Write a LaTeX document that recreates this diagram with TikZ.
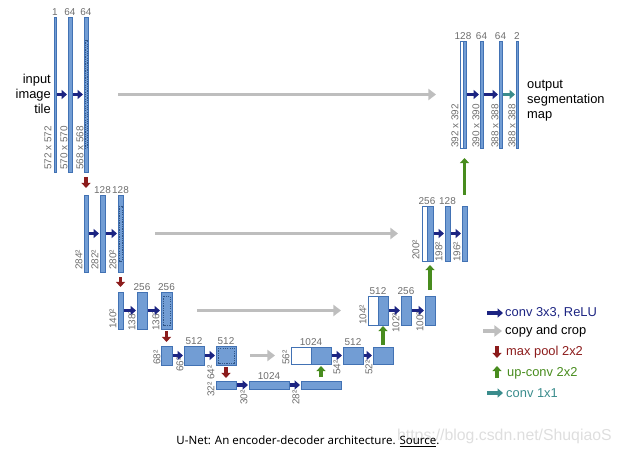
\documentclass[tikz,border=0pt]{standalone}
\usepackage{fontspec}
\setmainfont{Liberation Sans}
\newfontfamily\capfont{Noto Sans}
\usepackage{xcolor}
\usetikzlibrary{positioning, arrows.meta}

\definecolor{fmapblue}{RGB}{114,157,212}
\definecolor{fmapedge}{RGB}{66,114,180}
\definecolor{convblue}{RGB}{28,36,130}
\definecolor{poolred}{RGB}{140,28,28}
\definecolor{upgreen}{RGB}{72,140,30}
\definecolor{outteal}{RGB}{58,140,140}
\definecolor{copygray}{RGB}{190,190,190}
\definecolor{numgray}{RGB}{110,110,110}
\definecolor{markgray}{RGB}{222,222,222}

\newlength{\pxu}
\setlength{\pxu}{0.03cm}

\begin{document}
\begin{tikzpicture}[x=0.03cm, y=-0.03cm,
    fmap/.style={draw=fmapedge, fill=fmapblue, line width=0.5pt, inner sep=0pt, outer sep=0pt, anchor=north west},
    skipbox/.style={fmap, fill=white},
    crop/.style={draw=fmapedge!75!black, dash pattern=on 1pt off 1pt, line width=0.5pt},
    ch/.style={text=numgray, font=\fontsize{8.5}{9}\selectfont, inner sep=0.8pt},
    sz/.style={ch, rotate=90, anchor=west, inner sep=0pt},
    conv/.style={-{Triangle[length=4.5pt, width=7.5pt]}, line width=2.6pt, convblue, shorten <=1\pxu, shorten >=1\pxu},
    onebyone/.style={conv, outteal},
    pool/.style={-{Triangle[length=4.3pt, width=7.5pt]}, line width=2.7pt, poolred},
    upconv/.style={-{Triangle[length=4.3pt, width=7.5pt]}, line width=2.7pt, upgreen},
    copyarr/.style={-{Triangle[length=6.5pt, width=9.5pt]}, line width=3.2pt, copygray},
    legtxt/.style={font=\fontsize{11}{12.8}\selectfont, anchor=west, inner sep=0pt}]

    \useasboundingbox (0,0) rectangle (618,455);

    % Encoder, level 1
    \node[fmap, minimum width=2\pxu, minimum height=155\pxu] (e11) at (54,17) {};
    \node[fmap, minimum width=4\pxu, minimum height=155\pxu] (e12) at (68,17) {};
    \node[fmap, minimum width=4\pxu, minimum height=155\pxu] (e13) at (84,17) {};
    \draw[crop] (85,40) rectangle (87,148);

    % Encoder, level 2
    \node[fmap, minimum width=4\pxu, minimum height=77\pxu] (e21) at (84,195) {};
    \node[fmap, minimum width=5\pxu, minimum height=77\pxu] (e22) at (100,195) {};
    \node[fmap, minimum width=5\pxu, minimum height=77\pxu] (e23) at (118,195) {};
    \draw[crop] (119.2,206) rectangle (121.8,261);

    % Encoder, level 3
    \node[fmap, minimum width=5\pxu, minimum height=37\pxu] (e31) at (118,292) {};
    \node[fmap, minimum width=10\pxu, minimum height=37\pxu] (e32) at (137,292) {};
    \node[fmap, minimum width=11\pxu, minimum height=37\pxu] (e33) at (161,292) {};
    \draw[crop] (163,296) rectangle (170,325);

    % Encoder, level 4
    \node[fmap, minimum width=11\pxu, minimum height=19\pxu] (e41) at (161,346) {};
    \node[fmap, minimum width=20\pxu, minimum height=19\pxu] (e42) at (184,346) {};
    \node[fmap, minimum width=20\pxu, minimum height=19\pxu] (e43) at (216,346) {};
    \draw[crop] (218,348) rectangle (234,363);

    % Bottom
    \node[fmap, minimum width=20\pxu, minimum height=8\pxu] (b1) at (216,381) {};
    \node[fmap, minimum width=40\pxu, minimum height=8\pxu] (b2) at (249,381) {};
    \node[fmap, minimum width=40\pxu, minimum height=8\pxu] (b3) at (301,381) {};

    % Decoder, level 4
    \node[skipbox, minimum width=20\pxu, minimum height=17\pxu] (w4) at (291,347) {};
    \node[fmap, minimum width=20\pxu, minimum height=17\pxu] (d41) at (311,347) {};
    \node[fmap, minimum width=20\pxu, minimum height=17\pxu] (d42) at (343,347) {};
    \node[fmap, minimum width=20\pxu, minimum height=17\pxu] (d43) at (373,347) {};

    % Decoder, level 3
    \node[skipbox, minimum width=10\pxu, minimum height=29\pxu] (w3) at (368,296) {};
    \node[fmap, minimum width=10\pxu, minimum height=29\pxu] (d31) at (378,296) {};
    \node[fmap, minimum width=10\pxu, minimum height=29\pxu] (d32) at (401,296) {};
    \node[fmap, minimum width=10\pxu, minimum height=29\pxu] (d33) at (425,296) {};

    % Decoder, level 2
    \node[skipbox, minimum width=5\pxu, minimum height=55\pxu] (w2) at (422,206) {};
    \node[fmap, minimum width=6\pxu, minimum height=55\pxu] (d21) at (427,206) {};
    \node[fmap, minimum width=5\pxu, minimum height=55\pxu] (d22) at (445,206) {};
    \node[fmap, minimum width=5\pxu, minimum height=55\pxu] (d23) at (462,206) {};

    % Decoder, level 1
    \node[skipbox, minimum width=3\pxu, minimum height=107\pxu] (w1) at (460,41) {};
    \node[fmap, minimum width=3\pxu, minimum height=107\pxu] (d11) at (463,41) {};
    \node[fmap, minimum width=3\pxu, minimum height=107\pxu] (d12) at (480,41) {};
    \node[fmap, minimum width=3\pxu, minimum height=107\pxu] (d13) at (499,41) {};
    \node[fmap, minimum width=2\pxu, minimum height=107\pxu] (d14) at (516,41) {};

    % Channel counts
    \node[ch, above=0pt of e11] (c11) {1};
    \node[ch, above=0pt of e12] (c12) {64};
    \node[ch, above=0pt of e13] (c13) {64};
    \node[ch, above=0pt of e22] (c22) {128};
    \node[ch, above=0pt of e23] (c23) {128};
    \node[ch, above=0pt of e32] (c32) {256};
    \node[ch, above=0pt of e33] (c33) {256};
    \node[ch, above=0pt of e42] (c42) {512};
    \node[ch, above=0pt of e43] (c43) {512};
    \node[ch, above=0pt of b2] (cb2) {1024};
    \node[ch, above=0pt of w4.north east] (cw4) {1024};
    \node[ch, above=0pt of d42] (c42d) {512};
    \node[ch, above=0pt of w3.north east] (cw3) {512};
    \node[ch, above=0pt of d32] (c32d) {256};
    \node[ch, above=0pt of w2.north east] (cw2) {256};
    \node[ch, above=0pt of d22] (c22d) {128};
    \node[ch, above=0pt of w1.north east] (cw1) {128};
    \node[ch, above=0pt of d12] (c12d) {64};
    \node[ch, above=0pt of d13] (c13d) {64};
    \node[ch, above=0pt of d14] (c14d) {2};

    % Sizes
    \node[sz] (s11) at (48,170) {572 x 572};
    \node[sz] (s12) at (64,170) {570 x 570};
    \node[sz] (s13) at (80,170) {568 x 568};
    \node[sz] (s21) at (79,270) {284²};
    \node[sz] (s22) at (95,270) {282²};
    \node[sz] (s23) at (113,270) {280²};
    \node[sz] (s31) at (113,329) {140²};
    \node[sz] (s32) at (132,331) {138²};
    \node[sz] (s33) at (156,331) {136²};
    \node[sz] (s41) at (157,365) {68²};
    \node[sz] (s42) at (180,372) {66²};
    \node[sz] (s43) at (211,380) {64²};
    \node[sz] (sb1) at (211,397) {32²};
    \node[sz] (sb2) at (244,405) {30²};
    \node[sz] (sb3) at (296,405) {28²};
    \node[sz] (sw4) at (286,365) {56²};
    \node[sz] (s42d) at (337,375) {54²};
    \node[sz] (s43d) at (369,375) {52²};
    \node[sz] (sw3) at (363,325) {104²};
    \node[sz] (s32d) at (396,333) {102²};
    \node[sz] (s33d) at (420,332) {100²};
    \node[sz] (sw2) at (416,260) {200²};
    \node[sz] (s22d) at (439,262) {198²};
    \node[sz] (s23d) at (457,262) {196²};
    \node[sz] (sw1) at (455,148) {392 x 392};
    \node[sz] (s12d) at (476,148) {390 x 390};
    \node[sz] (s13d) at (495,148) {388 x 388};
    \node[sz] (s14d) at (512,148) {388 x 388};

    % conv 3x3
    \draw[conv] (e11) -- (e12);
    \draw[conv] (e12) -- (e13);
    \draw[conv] (e21) -- (e22);
    \draw[conv] (e22) -- (e23);
    \draw[conv] (e31) -- (e32);
    \draw[conv] (e32) -- (e33);
    \draw[conv] (e41) -- (e42);
    \draw[conv] (e42) -- (e43);
    \draw[conv] (b1) -- (b2);
    \draw[conv] (b2) -- (b3);
    \draw[conv] (d41) -- (d42);
    \draw[conv] (d42) -- (d43);
    \draw[conv] (d31) -- (d32);
    \draw[conv] (d32) -- (d33);
    \draw[conv] (d21) -- (d22);
    \draw[conv] (d22) -- (d23);
    \draw[conv] (d11) -- (d12);
    \draw[conv] (d12) -- (d13);
    \draw[onebyone] (d13) -- (d14);

    % max pool
    \draw[pool, shorten <=5\pxu, shorten >=7\pxu] (e13) -- (e21);
    \draw[pool, shorten <=5\pxu, shorten >=5\pxu] (e23) -- (e31);
    \draw[pool, shorten <=2\pxu, shorten >=4\pxu] (e33) -- (e41);
    \draw[pool, shorten <=2\pxu, shorten >=3\pxu] (e43) -- (b1);

    % up-conv
    \draw[upconv, shorten <=4\pxu, shorten >=2\pxu] (b3) -- (d41);
    \draw[upconv, shorten <=2\pxu, shorten >=1\pxu] (d43) -- (d31);
    \draw[upconv, shorten <=6\pxu, shorten >=4\pxu] (d33) -- (d21);
    \draw[upconv, shorten <=11\pxu, shorten >=10\pxu] (d23) -- (d11);

    % copy and crop
    \draw[copyarr, shorten <=30\pxu, shorten >=24\pxu] (e13) -- (w1);
    \draw[copyarr, shorten <=32\pxu, shorten >=24\pxu] (e23) -- (w2);
    \draw[copyarr, shorten <=25\pxu, shorten >=27\pxu] (e33) -- (w3);
    \draw[copyarr, shorten <=14\pxu, shorten >=16\pxu] (e43) -- (w4);

    % In and out
    \node[legtxt, anchor=east, align=right] (inp) at (51,94) {input\\image\\tile};
    \node[legtxt, align=left] (outp) at (527,101) {output\\segmentation\\map};

    % Legend
    \node[legtxt, text=convblue] (lconv) at (505,313) {conv 3x3, ReLU};
    \node[legtxt] (lcopy) at (505,331) {copy and crop};
    \node[legtxt, text=poolred] (lpool) at (506,352) {max pool 2x2};
    \node[legtxt, text=upgreen] (lup) at (507,373) {up-conv 2x2};
    \node[legtxt, text=outteal] (lone) at (506,393) {conv 1x1};
    \coordinate (a1) at (487,313); \coordinate (a2) at (503,313);
    \coordinate (a3) at (483,331); \coordinate (a4) at (502,331);
    \coordinate (a5) at (497,346); \coordinate (a6) at (497,358);
    \coordinate (a7) at (497,378); \coordinate (a8) at (497,366);
    \coordinate (a9) at (487,393); \coordinate (a10) at (503,393);
    \draw[conv, shorten <=0pt, shorten >=0pt] (a1) -- (a2);
    \draw[copyarr] (a3) -- (a4);
    \draw[pool] (a5) -- (a6);
    \draw[upconv] (a7) -- (a8);
    \draw[onebyone, shorten <=0pt, shorten >=0pt] (a9) -- (a10);

    % Caption
    \node[text=markgray, font=\fontsize{13.5}{14}\selectfont, anchor=west] (mark) at (393,436) {https://blog.csdn.net/ShuqiaoS};
    \node[font=\capfont\fontsize{9.8}{11}\selectfont] (cap) at (308,441) {U-Net: An encoder-decoder architecture. \underline{Source}.};
\end{tikzpicture}
\end{document}
